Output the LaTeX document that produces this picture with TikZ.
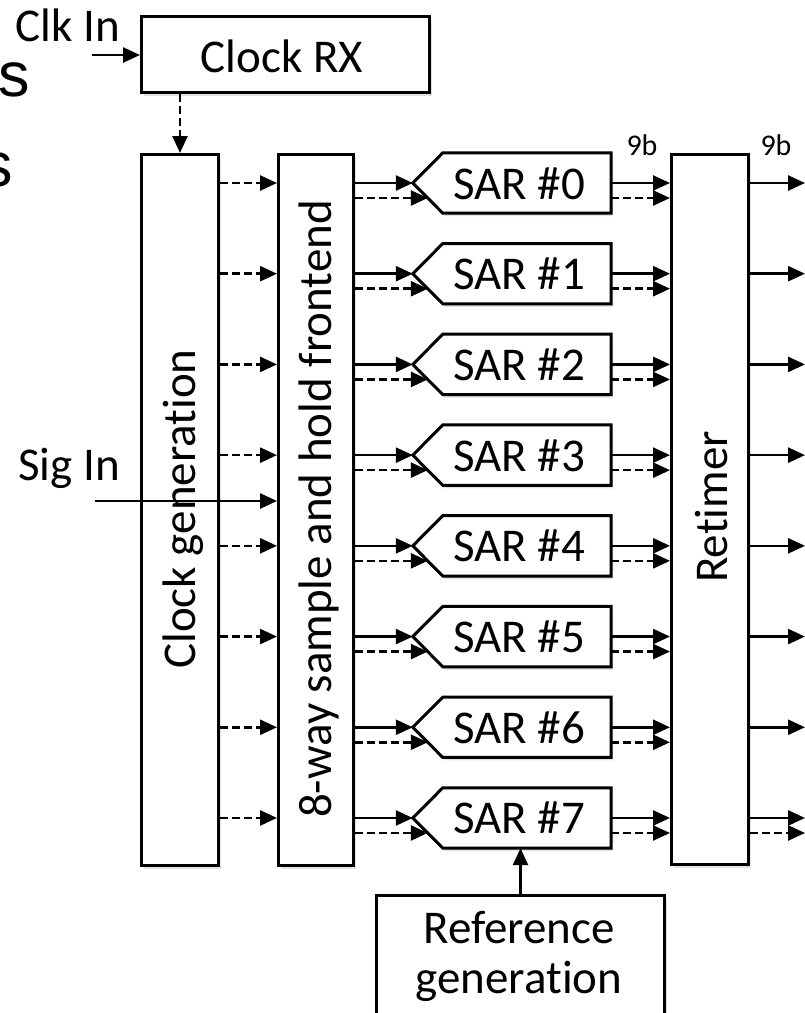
\documentclass[tikz,border=0pt]{standalone}
\usepackage{fontspec}
\setmainfont{Carlito}[Ligatures={NoCommon}]
\newfontfamily\arialfont{Liberation Sans}
\usetikzlibrary{arrows.meta,calc,shadows}
\begin{document}
\begin{tikzpicture}[x=1pt,y=-1pt,
  box/.style={draw=black, line width=3pt, fill=white, inner sep=0pt,
    drop shadow={shadow xshift=2pt, shadow yshift=-3pt, opacity=0.25, fill=black!45}},
  txt/.style={font=\fontsize{47}{50}\selectfont, inner sep=0pt},
  smalltxt/.style={font=\fontsize{30}{32}\selectfont, inner sep=0pt},
  sig/.style={line width=2.6pt, -{Triangle[length=17pt,width=15pt]}},
  clk/.style={sig, dash pattern=on 8pt off 4pt},
]
\useasboundingbox (0,0) rectangle (805,1013);
\clip (0,0) rectangle (805,1013);

% cropped letters at the left edge
\node[font=\arialfont\fontsize{63}{63}\selectfont, inner sep=0pt, anchor=base west] (s1) at (-2,96) {s};
\node[font=\arialfont\fontsize{63}{63}\selectfont, inner sep=0pt, anchor=base west] (s2) at (-19,186) {s};

% blocks
\node[box, minimum width=288pt, minimum height=76pt, anchor=north west] (crx) at (140,15) {};
\node[txt, anchor=base] (crxt) at (282,72) {Clock RX};

\node[box, minimum width=77pt, minimum height=711pt, anchor=north west] (cg) at (140,153) {};
\node[txt, rotate=90, anchor=base] (cgt) at (195,509) {Clock generation};

\node[box, minimum width=75pt, minimum height=711pt, anchor=north west] (fe) at (277,153) {};
\node[txt, rotate=90, anchor=base] (fet) at (331,509) {8-way sample and hold frontend};

\node[box, minimum width=77pt, minimum height=710pt, anchor=north west] (rt) at (670,153) {};
\node[txt, rotate=90, anchor=base] (rtt) at (727,507) {Retimer};

\node[box, minimum width=288pt, minimum height=170pt, anchor=north west] (ref) at (375,894) {};
\node[txt, anchor=base] (reft1) at (519,943) {Reference};
\node[txt, anchor=base] (reft2) at (519,993) {generation};

% clock input
\coordinate (clkin) at (92,55);
\draw[sig] (clkin) -- (clkin -| crx.west);
\node[txt, anchor=base] (clkt) at (68,41) {Clk In};
\draw[clk] (crx.south -| cg.north) -- (cg.north);

% SAR channels
\foreach \i in {0,...,7}{
  \pgfmathsetmacro{\yy}{183+90.71*\i}
  \node[minimum width=198pt, minimum height=60pt, inner sep=0pt] (sar\i) at (512,\yy) {};
  \draw[box] (sar\i.west) -- ([xshift=30pt]sar\i.north west) -- (sar\i.north east)
     -- (sar\i.south east) -- ([xshift=30pt]sar\i.south west) -- cycle;
  \node[txt, anchor=base] (sart\i) at ([xshift=7pt,yshift=-16pt]sar\i.center) {SAR \#\i};
  \draw[clk] (cg.east |- sar\i.west) -- (fe.west |- sar\i.west);
  \draw[sig] (fe.east |- sar\i.west) -- (sar\i.west);
  \coordinate (din\i) at ([xshift=15pt,yshift=-15pt]sar\i.west);
  \draw[clk] (fe.east |- din\i) -- (din\i);
  \draw[sig] (sar\i.east) -- (rt.west |- sar\i.east);
  \coordinate (dout\i) at ([yshift=-15pt]sar\i.east);
  \draw[clk] (dout\i) -- (rt.west |- dout\i);
  \coordinate (out\i) at (805,\yy);
  \draw[sig] (rt.east |- out\i) -- (out\i);
}
\coordinate (dlast) at (805,833);
\draw[clk] (rt.east |- dlast) -- (dlast);

% bit-width labels
\node[smalltxt, anchor=base] (nb1) at (642,155) {9b};
\node[smalltxt, anchor=base] (nb2) at (776,155) {9b};

% signal input
\coordinate (sigin) at (95,501);
\draw[sig] (sigin) -- (sigin -| fe.west);
\node[txt, anchor=base] (sigt) at (69,480) {Sig In};

% reference
\draw[sig] (ref.north) -- (ref.north |- sar7.south);
\end{tikzpicture}
\end{document}
